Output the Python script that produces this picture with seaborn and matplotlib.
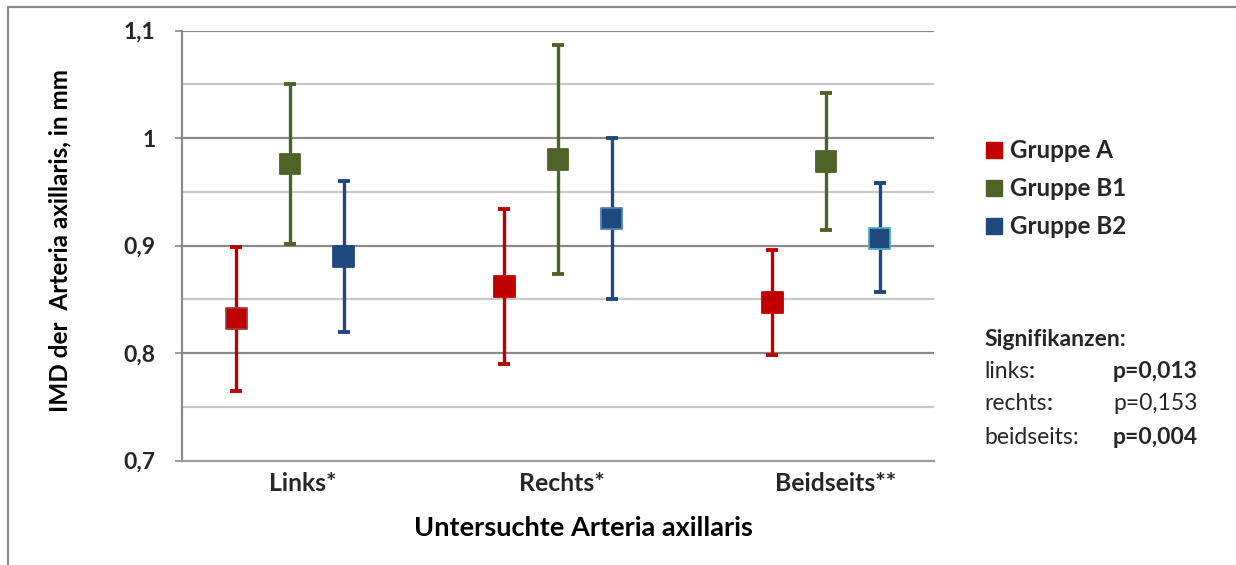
import numpy as np
import pandas as pd
import matplotlib
matplotlib.use("Agg")
import matplotlib.pyplot as plt
from matplotlib.lines import Line2D
from matplotlib.transforms import ScaledTranslation
import seaborn as sns

# ---------------- data ----------------
categories = ["Links*", "Rechts*", "Beidseits**"]
groups = ["Gruppe A", "Gruppe B1", "Gruppe B2"]

mean_A = [0.832, 0.862, 0.847]
low_A = [0.765, 0.790, 0.798]
high_A = [0.899, 0.934, 0.896]

mean_B1 = [0.976, 0.980, 0.978]
low_B1 = [0.902, 0.874, 0.915]
high_B1 = [1.050, 1.087, 1.042]

mean_B2 = [0.890, 0.925, 0.907]
low_B2 = [0.820, 0.850, 0.857]
high_B2 = [0.960, 1.000, 0.958]

ytick_values = [0.7, 0.8, 0.9, 1.0, 1.1]
ytick_labels = ["0,7", "0,8", "0,9", "1", "1,1"]

sig_title = "Signifikanzen:"
sig_names = ["links", "rechts", "beidseits"]
sig_values = ["p=0,013", "p=0,153", "p=0,004"]
sig_bold = [True, False, True]

x_title = "Untersuchte Arteria axillaris"
y_title = "IMD der  Arteria axillaris, in mm"

# ---------------- styling ----------------
colors = {"Gruppe A": "#C00000", "Gruppe B1": "#4F6228", "Gruppe B2": "#1F497D"}
offsets = {"Gruppe A": -0.2, "Gruppe B1": 0.0, "Gruppe B2": 0.2}

sns.set_theme(style="white")
plt.rcParams["font.family"] = ["Lato", "DejaVu Sans"]

means = {"Gruppe A": mean_A, "Gruppe B1": mean_B1, "Gruppe B2": mean_B2}
lows = {"Gruppe A": low_A, "Gruppe B1": low_B1, "Gruppe B2": low_B2}
highs = {"Gruppe A": high_A, "Gruppe B1": high_B1, "Gruppe B2": high_B2}

rows = []
for g in groups:
    for i, c in enumerate(categories):
        rows.append({"category": c, "group": g, "x": i + offsets[g],
                     "mean": means[g][i], "low": lows[g][i], "high": highs[g][i]})
df = pd.DataFrame(rows)

W, H = 1236, 565
fig = plt.figure(figsize=(W / 100, H / 100), dpi=100)
ax = fig.add_axes([182 / W, 1 - 460.7 / H, (934 - 182) / W, (460.7 - 30.7) / H])

# gridlines
for v in np.arange(0.75, 1.1, 0.1):
    ax.axhline(v, color="#c8c8c8", lw=1.6, zorder=0)
for v in ytick_values[1:]:
    ax.axhline(v, color="#8a8a8a", lw=1.6, zorder=0)

# error bars
for g in groups:
    d = df[df.group == g]
    ax.errorbar(d["x"], d["mean"], yerr=[d["mean"] - d["low"], d["high"] - d["mean"]],
                fmt="none", ecolor=colors[g], elinewidth=2.4, capsize=4.5,
                capthick=2.8, zorder=2)

# markers
edge_map = {("Gruppe A", "Links*"): "#a33a3a", ("Gruppe B2", "Rechts*"): "#4f81bd",
            ("Gruppe B2", "Beidseits**"): "#4bacc6"}
edges = [edge_map.get((r.group, r.category), colors[r.group]) for r in df.itertuples()]
sns.scatterplot(data=df, x="x", y="mean", hue="group", palette=colors, marker="s",
                s=225, edgecolor=edges, linewidth=1.3, legend=False, ax=ax, zorder=3)

ax.set_xlim(-0.403, 2.403)
ax.set_ylim(0.7, 1.1)
ax.set_yticks(ytick_values)
ax.set_yticklabels(ytick_labels)
ax.set_xticks(range(len(categories)))
ax.set_xticklabels(categories)

for sp in ["top", "right"]:
    ax.spines[sp].set_visible(False)
ax.spines["left"].set_color("#8a8a8a")
ax.spines["left"].set_linewidth(1.6)
ax.spines["bottom"].set_color("#9a9a9a")
ax.spines["bottom"].set_linewidth(1.6)

ax.tick_params(axis="y", which="major", length=5, width=1.2, color="#8a8a8a",
               pad=14, labelsize=16.5, left=True)
ax.tick_params(axis="x", length=0, pad=8, labelsize=17.8)
for lab in ax.get_yticklabels() + ax.get_xticklabels():
    lab.set_fontweight("bold")
lab_shift = [13, 4, 10]
for lab, dx in zip(ax.get_xticklabels(), lab_shift):
    lab.set_transform(lab.get_transform() + ScaledTranslation(dx / 100, 0, fig.dpi_scale_trans))

ax.set_xlabel(x_title, fontsize=19.5, fontweight="bold", color="black")
ax.xaxis.set_label_coords((583 - 182) / 752, (460.7 - 528) / 430)
ax.xaxis.label.set_va("center")
ax.set_ylabel(y_title, fontsize=17.5, fontweight="bold", color="black")
ax.yaxis.set_label_coords((60 - 182) / 752, (460.7 - 240) / 430)
ax.yaxis.label.set_va("center")

# legend
handles = [Line2D([], [], marker="s", linestyle="none", markersize=12,
                  markerfacecolor=colors[g], markeredgecolor=colors[g]) for g in groups]
fig.legend(handles, groups, loc="upper left", bbox_to_anchor=(987 / W, 1 - 139 / H),
           frameon=False, handlelength=0.6, handletextpad=0.35, labelspacing=0.62,
           borderaxespad=0, borderpad=0,
           prop={"family": ["Lato", "DejaVu Sans"], "weight": "bold", "size": 17.4})

# significance block
fs = 16.5
fig.text(984 / W, 1 - 339 / H, sig_title, fontsize=fs, fontweight="bold", va="center")
fig.canvas.draw()
renderer = fig.canvas.get_renderer()
ys = [372, 404, 437]
for name, val, b, y in zip(sig_names, sig_values, sig_bold, ys):
    t = fig.text(984 / W, 1 - y / H, name, fontsize=fs, va="center")
    bb = t.get_window_extent(renderer)
    fig.text(bb.x1 / W, 1 - y / H, ":", fontsize=fs, va="center",
             fontweight="bold" if name != "beidseits" else "normal")
    fig.text(1113 / W, 1 - y / H, val, fontsize=fs, va="center",
             fontweight="bold" if b else "normal")

# outer chart frame (top and left edges visible)
fig.add_artist(Line2D([8 / W, 1.0], [1 - 7 / H, 1 - 7 / H], color="#8a8a8a", lw=1.6,
                      transform=fig.transFigure))
fig.add_artist(Line2D([8 / W, 8 / W], [1 - 7 / H, 0], color="#8a8a8a", lw=1.6,
                      transform=fig.transFigure))

fig.savefig("out.png", dpi=100, facecolor="white")
